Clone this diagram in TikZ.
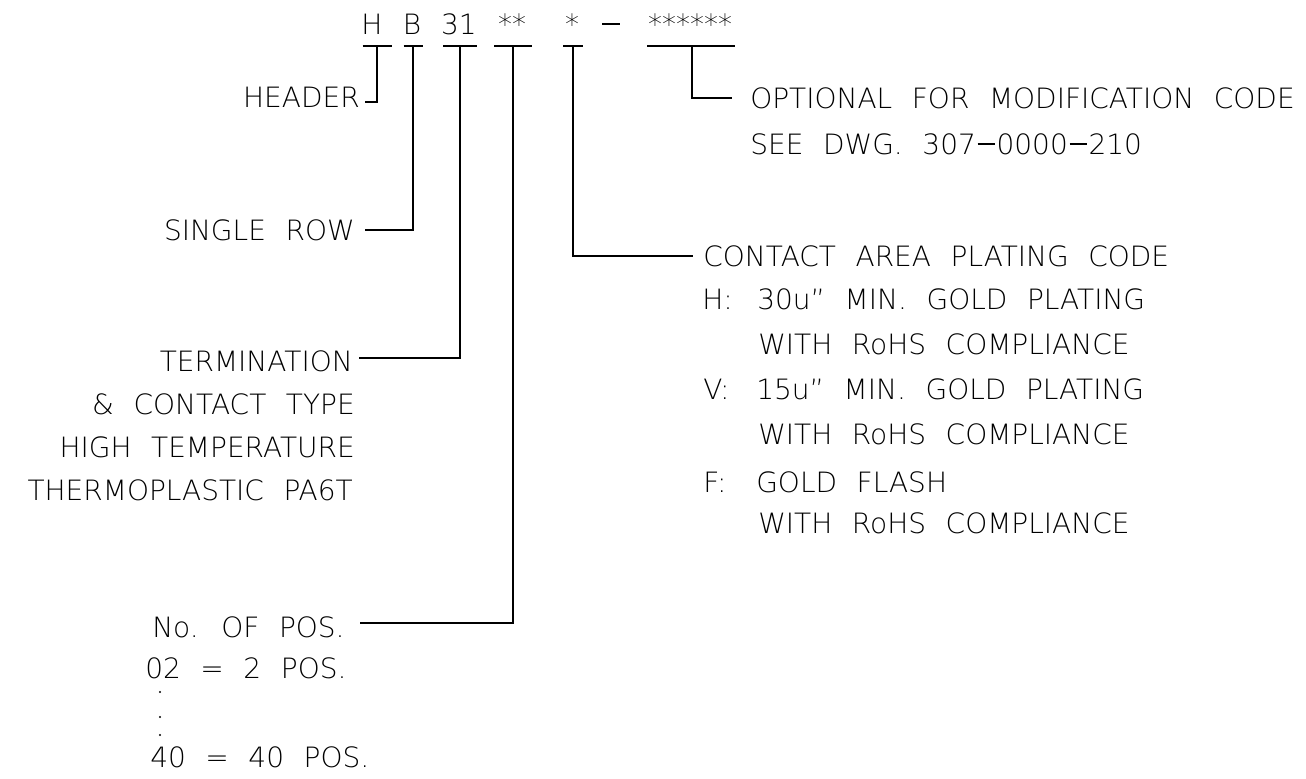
\documentclass[tikz,border=0pt]{standalone}
\usepackage{fontspec}
\setmainfont{DejaVu Sans ExtraLight}[WordSpace=2.2]
\usepackage{tikz}
\usetikzlibrary{positioning}

\newcommand{\cadDash}{\kern0.06em\rule[0.34em]{0.62em}{0.045em}\kern0.06em}

\tikzset{
  code/.style={inner sep=0pt,text height=15.3pt,text depth=0pt,font=\fontsize{21pt}{25pt}\selectfont},
  leader/.style={line width=0.9pt},
}

\begin{document}
\begin{tikzpicture}[x=0.75pt,y=0.75pt,yscale=-1,xscale=1]
\useasboundingbox (0,0) rectangle (1306,778);

%Text Node: part number
\node[code] (pH) at (372,24) {H};
\node[code] (pB) at (412,24) {B};
\node[code] (p31) at (459,24) {31};
\node[code] (pPos) at (512,24) {**};
\node[code] (pPlate) at (572,24) {*};
\node[code] (pDash) at (611,24) {\cadDash};
\node[code] (pMod) at (690,24) {******};

%Coordinates: tops of the leaders
\coordinate (tH) at (377,46);
\coordinate (tB) at (413,46);
\coordinate (t31) at (460,46);
\coordinate (tPos) at (513,46);
\coordinate (tPlate) at (573,46);
\coordinate (tMod) at (692,46);

%Straight Lines: bars under the code
\draw[leader] (tH) ++(-14.5,0) -- ++(29,0);
\draw[leader] (tB) ++(-9.5,0) -- ++(19,0);
\draw[leader] (t31) ++(-17,0) -- ++(34,0);
\draw[leader] (tPos) ++(-19,0) -- ++(38,0);
\draw[leader] (tPlate) ++(-10,0) -- ++(20,0);
\draw[leader] (tMod) ++(-45,0) -- ++(88,0);

%Text Node: left labels
\node[code,anchor=east] (lHeader) at (360,97) {HEADER};
\node[code,anchor=east] (lRow) at (355,230) {SINGLE ROW};
\node[code,anchor=east] (lTerm) at (353,361) {TERMINATION};
\node[code,anchor=east] (lTermB) at (355,404) {\& CONTACT TYPE};
\node[code,anchor=east] (lTermC) at (355,447) {HIGH TEMPERATURE};
\node[code,anchor=east] (lTermD) at (353,490) {THERMOPLASTIC PA6T};
\node[code,anchor=west] (lPos) at (152,627) {No. OF POS.};
\node[code,anchor=west] (lPosB) at (145,668) {02 = 2 POS.};
\node[code,anchor=west] (lPosC) at (150,757) {40 = 40 POS.};
\foreach \y in {692,717,735}
  \fill (160,\y) circle (1.1);

%Text Node: right labels
\node[code,anchor=west] (rMod) at (750,98) {OPTIONAL FOR MODIFICATION CODE};
\node[code,anchor=west] (rModB) at (750,144) {SEE DWG. 307\cadDash0000\cadDash210};
\node[code,anchor=west] (rPlate) at (703,256) {CONTACT AREA PLATING CODE};
\node[code,anchor=west] (rH) at (702,299) {H:};
\node[code,anchor=west] (rHtxt) at (757,299) {30u” MIN. GOLD PLATING};
\node[code,anchor=west] (rHrohs) at (758,344) {WITH RoHS COMPLIANCE};
\node[code,anchor=west] (rV) at (703,389) {V:};
\node[code,anchor=west] (rVtxt) at (756,389) {15u” MIN. GOLD PLATING};
\node[code,anchor=west] (rVrohs) at (758,434) {WITH RoHS COMPLIANCE};
\node[code,anchor=west] (rF) at (703,482) {F:};
\node[code,anchor=west] (rFtxt) at (756,482) {GOLD FLASH};
\node[code,anchor=west] (rFrohs) at (758,523) {WITH RoHS COMPLIANCE};

%Straight Lines: leaders
\draw[leader] (tH) |- ([xshift=3.75pt,yshift=3.75pt]lHeader.east);
\draw[leader] (tB) |- ([xshift=7.5pt]lRow.east);
\draw[leader] (t31) |- ([xshift=4.5pt,yshift=-2.25pt]lTerm.east);
\draw[leader] (tPos) |- ([xshift=11.25pt,yshift=-3pt]lPos.east);
\draw[leader] (tPlate) |- ([xshift=-7.5pt]rPlate.west);
\draw[leader] (tMod) |- ([xshift=-13.5pt]rMod.west);
\end{tikzpicture}
\end{document}
